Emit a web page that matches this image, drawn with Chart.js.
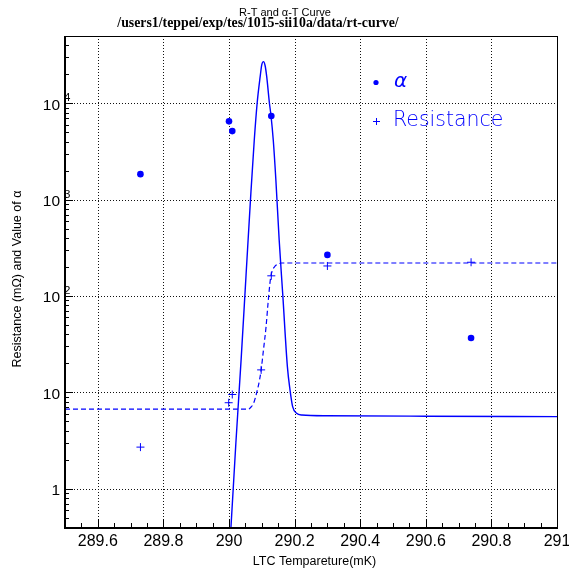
<!DOCTYPE html>
<html>
<head>
<meta charset="utf-8">
<script src="https://cdn.jsdelivr.net/npm/chart.js@4"></script>
<style>
html, body { margin: 0; padding: 0; background: #fff; }
canvas { display: block; }
</style>
</head>
<body>
<canvas id="rt" width="569" height="573"></canvas>
<script>
// measured alpha values
const alphaTemp = [289.73, 290.0, 290.01, 290.129, 290.30, 290.738];
const alphaVals = [1840, 6500, 5150, 7380, 267, 36.6];

// measured resistance (mOhm)
const resTemp = [289.73, 289.999, 290.01, 290.098, 290.129, 290.30, 290.738];
const resVals = [2.7, 7.8, 9.5, 17.1, 162, 205, 224];

// fitted R-T curve
const resFitTemp = [289.5, 290.06, 290.065, 290.075, 290.085, 290.093, 290.098, 290.105,
    290.113, 290.119, 290.126, 290.131, 290.141, 290.151, 290.16, 291];
const resFitVals = [6.7, 6.7, 6.92, 7.7, 10.1, 13.4, 17.1, 27.4,
    48, 84, 147, 179, 205, 215, 220, 220];

// fitted alpha-T curve
const alphaFitTemp = [289.999, 290.006, 290.021, 290.037, 290.052, 290.067, 290.077, 290.086,
    290.095, 290.1, 290.105, 290.11, 290.115, 290.123, 290.128, 290.135, 290.143, 290.153,
    290.164, 290.178, 290.186, 290.194, 290.206, 290.222, 290.3, 290.6, 291];
const alphaFitVals = [0.18, 0.4, 3.0, 22, 165, 1220, 4140, 10200,
    18900, 25200, 27100, 24700, 18900, 10200, 7480, 4140, 1580, 380,
    102, 18.5, 10.6, 7.1, 6.07, 5.82, 5.72, 5.65, 5.59];

const xTicks = [289.6, 289.8, 290, 290.2, 290.4, 290.6, 290.8, 291];
const xTickLabels = ["289.6", "289.8", "290", "290.2", "290.4", "290.6", "290.8", "291"];
const yTicks = [1, 10, 100, 1000, 10000];
const yTickBase = ["1", "10", "10", "10", "10"];
const yTickExp = ["", "", "2", "3", "4"];

const BLUE = "#0000ff";
const SANS = "'Liberation Sans', Arial, sans-serif";

const pairs = (xs, ys) => xs.map((x, i) => ({ x, y: ys[i] }));

// grid, ticks, frame, labels and legend in ROOT style
const rootFrame = {
    id: "rootFrame",
    beforeDatasetsDraw(chart) {
        const { ctx, chartArea: a, scales: { x, y } } = chart;
        ctx.save();
        ctx.strokeStyle = "#111";
        ctx.lineWidth = 1;
        ctx.setLineDash([1, 2]);
        xTicks.forEach(v => {
            const px = Math.round(x.getPixelForValue(v)) + 0.5;
            ctx.beginPath();
            ctx.moveTo(px, a.top);
            ctx.lineTo(px, a.bottom);
            ctx.stroke();
        });
        yTicks.forEach(v => {
            const py = Math.round(y.getPixelForValue(v)) + 0.5;
            ctx.beginPath();
            ctx.moveTo(a.left, py);
            ctx.lineTo(a.right, py);
            ctx.stroke();
        });
        ctx.restore();
    },
    afterDatasetsDraw(chart) {
        const { ctx, chartArea: a, scales: { x, y } } = chart;
        ctx.save();
        ctx.strokeStyle = "#000";
        ctx.setLineDash([]);

        // tick marks
        ctx.lineWidth = 1;
        ctx.beginPath();
        for (let i = 0; i <= 30; i++) {
            const v = 289.5 + i * 0.05;
            const px = Math.round(x.getPixelForValue(v)) + 0.5;
            const len = (i % 4 === 2) ? 8 : 4;
            ctx.moveTo(px, a.bottom);
            ctx.lineTo(px, a.bottom - len);
        }
        for (let d = 0.1; d <= 10000; d *= 10) {
            for (let m = 1; m <= 9; m++) {
                const v = m * d;
                if (v < 0.4 || v > 50000) continue;
                const py = Math.round(y.getPixelForValue(v)) + 0.5;
                const len = m === 1 ? 8 : 4;
                ctx.moveTo(a.left, py);
                ctx.lineTo(a.left + len, py);
            }
        }
        ctx.stroke();

        // frame
        ctx.strokeRect(a.left + 0.5, a.top + 0.5, a.right - a.left, a.bottom - a.top);
        ctx.lineWidth = 2;
        ctx.beginPath();
        ctx.moveTo(a.left, a.top);
        ctx.lineTo(a.left, a.bottom + 1);
        ctx.lineTo(a.right + 1, a.bottom + 1);
        ctx.stroke();

        // tick labels
        ctx.fillStyle = "#000";
        ctx.font = "16px " + SANS;
        ctx.textAlign = "center";
        ctx.textBaseline = "alphabetic";
        xTicks.forEach((v, i) => {
            ctx.fillText(xTickLabels[i], x.getPixelForValue(v), 545.5);
        });
        yTicks.forEach((v, i) => {
            const py = y.getPixelForValue(v);
            ctx.font = "15.5px " + SANS;
            ctx.textAlign = "right";
            ctx.fillText(yTickBase[i], 60, py + 6.3);
            if (yTickExp[i]) {
                ctx.font = "11.5px " + SANS;
                ctx.textAlign = "left";
                ctx.fillText(yTickExp[i], 64, py - 2);
            }
        });

        // axis titles
        ctx.font = "12.5px " + SANS;
        ctx.textAlign = "center";
        ctx.fillText("LTC Tempareture(mK)", 314.5, 565);
        ctx.save();
        ctx.translate(18, 279);
        ctx.rotate(-Math.PI / 2);
        ctx.textBaseline = "middle";
        ctx.fillText("Resistance (m\u03a9) and Value of \u03b1", 0, 0);
        ctx.restore();

        // titles
        ctx.font = "bold 13.8px 'Liberation Serif', 'Times New Roman', serif";
        ctx.fillText("/users1/teppei/exp/tes/1015-sii10a/data/rt-curve/", 258, 26.5);
        ctx.font = "11px " + SANS;
        ctx.fillText("R-T and \u03b1-T Curve", 285, 16);

        // legend
        ctx.fillStyle = BLUE;
        ctx.strokeStyle = BLUE;
        ctx.lineWidth = 1;
        ctx.beginPath();
        ctx.arc(376, 82.5, 2.6, 0, Math.PI * 2);
        ctx.fill();
        ctx.beginPath();
        ctx.moveTo(373, 121.5);
        ctx.lineTo(380, 121.5);
        ctx.moveTo(376.5, 118);
        ctx.lineTo(376.5, 125);
        ctx.stroke();
        ctx.textAlign = "left";
        ctx.font = "italic 200 20px 'DejaVu Sans', sans-serif";
        ctx.fillText("\u03b1", 394, 87);
        ctx.font = "200 20.5px 'DejaVu Sans', sans-serif";
        ctx.fillText("Resistance", 393, 125.5);
        ctx.restore();
    }
};

new Chart(document.getElementById("rt"), {
    type: "scatter",
    data: {
        datasets: [
            {
                label: "alpha fit",
                data: pairs(alphaFitTemp, alphaFitVals),
                showLine: true,
                borderColor: BLUE,
                borderWidth: 1.4,
                pointRadius: 0,
                cubicInterpolationMode: "monotone",
            },
            {
                label: "R fit",
                data: pairs(resFitTemp, resFitVals),
                showLine: true,
                borderColor: BLUE,
                borderWidth: 1.2,
                borderDash: [5, 3],
                pointRadius: 0,
                cubicInterpolationMode: "monotone",
            },
            {
                label: "alpha",
                data: pairs(alphaTemp, alphaVals),
                pointStyle: "circle",
                pointRadius: 3.3,
                backgroundColor: BLUE,
                borderColor: BLUE,
                borderWidth: 0,
            },
            {
                label: "Resistance",
                data: pairs(resTemp, resVals),
                pointStyle: "cross",
                pointRadius: 4,
                borderColor: BLUE,
                borderWidth: 1,
            },
        ],
    },
    options: {
        responsive: false,
        animation: false,
        events: [],
        layout: { padding: { top: 36, right: 12, left: 0, bottom: 0 } },
        plugins: { legend: { display: false }, tooltip: { enabled: false } },
        scales: {
            x: {
                type: "linear",
                min: 289.5,
                max: 291,
                ticks: { display: false },
                grid: { display: false },
                border: { display: false },
                afterFit: s => { s.height = 46; },
            },
            y: {
                type: "logarithmic",
                min: 0.4,
                max: 50000,
                ticks: { display: false },
                grid: { display: false },
                border: { display: false },
                afterFit: s => { s.width = 65; },
            },
        },
    },
    plugins: [rootFrame],
});
</script>
</body>
</html>
